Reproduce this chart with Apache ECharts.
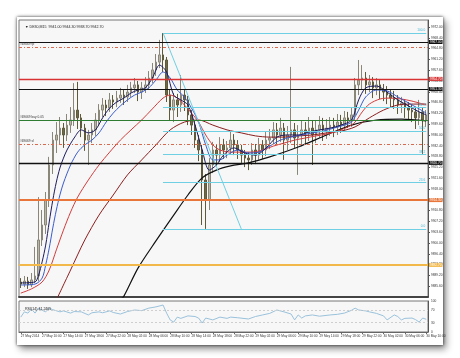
<!DOCTYPE html>
<html><head><meta charset="utf-8">
<script src="https://cdn.jsdelivr.net/npm/echarts@6/dist/echarts.min.js"></script>
<style>
html,body{margin:0;padding:0;background:#fff;width:460px;height:358px;overflow:hidden;}
#frame{position:absolute;left:17px;top:17px;width:426px;height:328px;background:#fff;box-shadow:0 0 3px rgba(0,0,0,.75),3px 4px 7px rgba(0,0,0,.45);}
#chart{position:absolute;left:0;top:0;width:460px;height:358px;}
</style></head><body>
<div id="frame"></div><div id="chart"></div>
<script>
const tickLabels = ["27 May 2014","27 May 10:00","27 May 14:00","27 May 18:00","27 May 22:00","28 May 02:00","28 May 06:00","28 May 10:00","28 May 14:00","28 May 18:00","28 May 22:00","29 May 02:00","29 May 06:00","29 May 10:00","29 May 14:00","29 May 18:00","29 May 22:00","30 May 02:00","30 May 06:00","30 May 10:00"];
// [open, close, low, high]
const candles = [
[9887.0,9886.3,9885.0,9888.3],[9886.3,9887.3,9885.3,9889.0],[9887.3,9886.0,9884.7,9888.7],[9886.0,9887.7,9885.3,9890.0],
[9887.7,9889.0,9886.7,9898.7],[9889.0,9901.0,9887.3,9915.3],[9901.0,9906.0,9899.0,9911.0],[9906.0,9914.3,9903.0,9917.0],
[9914.3,9926.0,9912.0,9928.7],[9926.0,9934.3,9923.0,9937.0],[9934.3,9936.0,9930.0,9940.3],[9936.0,9938.3,9933.0,9942.0],
[9938.3,9936.0,9931.7,9940.0],[9936.0,9939.3,9934.0,9943.0],[9939.3,9941.0,9936.7,9945.3],[9941.0,9944.3,9939.0,9953.3],
[9944.3,9941.7,9938.0,9953.7],[9941.7,9938.3,9935.3,9943.0],[9938.3,9934.3,9930.7,9939.7],[9934.3,9936.0,9926.0,9937.7],
[9936.0,9937.7,9933.3,9940.0],[9937.7,9941.0,9935.7,9943.3],[9941.0,9944.3,9939.3,9946.3],[9944.3,9946.0,9942.0,9948.3],
[9946.0,9945.0,9942.3,9947.7],[9945.0,9947.7,9943.7,9950.0],[9947.7,9947.0,9944.7,9949.3],[9947.0,9948.3,9945.3,9950.7],
[9948.3,9949.3,9946.7,9951.7],[9949.3,9948.7,9946.0,9951.0],[9948.7,9950.3,9947.0,9952.7],[9950.3,9951.7,9948.7,9953.7],
[9951.7,9952.7,9950.0,9955.0],[9952.7,9950.3,9947.3,9954.0],[9950.3,9951.7,9948.0,9953.7],[9951.7,9952.7,9950.0,9955.3],
[9952.7,9955.0,9951.0,9957.3],[9955.0,9957.7,9953.3,9960.0],[9957.7,9960.3,9955.7,9963.0],[9960.3,9962.7,9958.3,9967.7],
[9962.7,9961.0,9957.0,9970.0],[9961.0,9949.3,9947.0,9962.0],[9949.3,9944.3,9941.0,9951.0],[9944.3,9947.7,9940.3,9950.0],
[9947.7,9946.0,9942.0,9949.7],[9946.0,9949.3,9943.7,9956.0],[9949.3,9947.7,9944.0,9951.0],[9947.7,9942.7,9939.3,9949.0],
[9942.7,9939.3,9936.0,9944.3],[9939.3,9934.3,9931.7,9941.0],[9934.3,9931.0,9927.3,9936.0],[9931.0,9921.0,9906.0,9932.7],
[9921.0,9914.3,9904.7,9923.0],[9914.3,9926.0,9911.0,9928.3],[9926.0,9931.0,9923.3,9933.7],[9931.0,9929.3,9925.7,9933.0],
[9929.3,9932.7,9927.0,9935.3],[9932.7,9931.0,9928.0,9934.7],[9931.0,9931.7,9928.3,9934.0],[9931.7,9934.3,9929.7,9937.0],
[9934.3,9932.7,9929.3,9936.3],[9932.7,9931.0,9928.0,9934.3],[9931.0,9929.3,9926.7,9932.7],[9929.3,9928.3,9925.3,9931.0],
[9928.3,9927.7,9924.3,9930.3],[9927.7,9931.0,9926.0,9933.3],[9931.0,9929.3,9926.3,9933.0],[9929.3,9932.7,9927.7,9935.0],
[9932.7,9931.0,9928.0,9934.3],[9931.0,9934.3,9929.0,9937.0],[9934.3,9935.0,9931.3,9938.0],[9935.0,9937.7,9933.0,9940.3],
[9937.7,9936.0,9932.7,9940.0],[9936.0,9938.3,9933.7,9941.7],[9938.3,9934.3,9927.7,9940.0],[9934.3,9936.0,9931.0,9939.0],
[9936.0,9937.7,9933.3,9958.7],[9937.7,9935.0,9931.7,9940.0],[9935.0,9936.0,9922.7,9939.3],[9936.0,9937.7,9932.3,9941.0],
[9937.7,9936.7,9933.0,9940.3],[9936.7,9938.3,9934.0,9942.0],[9938.3,9936.0,9926.0,9941.0],[9936.0,9937.7,9933.3,9940.7],
[9937.7,9939.3,9935.0,9942.3],[9939.3,9937.7,9934.0,9941.7],[9937.7,9938.3,9934.7,9941.3],[9938.3,9939.3,9935.7,9942.0],
[9939.3,9938.7,9935.3,9941.7],[9938.7,9940.3,9936.0,9943.0],[9940.3,9939.3,9936.7,9942.7],[9939.3,9941.7,9937.3,9944.0],
[9941.7,9941.0,9938.3,9943.7],[9941.0,9942.7,9938.7,9945.3],[9942.7,9952.7,9941.0,9955.0],[9952.7,9954.3,9949.3,9961.0],
[9954.3,9955.0,9951.0,9959.3],[9955.0,9952.7,9949.7,9957.0],[9952.7,9953.7,9950.3,9956.0],[9953.7,9951.7,9948.3,9955.3],
[9951.7,9952.7,9949.3,9955.0],[9952.7,9951.0,9948.0,9954.3],[9951.0,9950.3,9947.3,9953.0],[9950.3,9949.3,9946.3,9952.3],
[9949.3,9948.3,9945.0,9951.3],[9948.3,9947.7,9944.7,9950.7],[9947.7,9946.0,9943.0,9949.3],[9946.0,9946.7,9943.3,9948.7],
[9946.7,9945.0,9941.7,9948.0],[9945.0,9944.3,9941.0,9947.0],[9944.3,9943.7,9940.3,9946.3],[9943.7,9941.7,9938.0,9945.0],
[9941.7,9943.7,9939.3,9947.7],[9943.7,9941.0,9929.7,9945.3],[9941.0,9942.7,9938.7,9944.3]
];
const maNavy = [[0,9886.7],[4,9887.0],[5,9889.3],[6,9893.7],[7,9899.3],[8,9907.0],[9,9914.3],[10,9920.3],[11,9925.0],[12,9928.3],[13,9931.0],[15,9935.0],[17,9937.7],[19,9936.7],[21,9937.7],[23,9941.7],[25,9945.0],[27,9947.0],[29,9948.3],[31,9950.0],[33,9951.0],[35,9951.7],[37,9955.0],[39,9959.3],[41,9957.0],[43,9949.3],[45,9947.7],[47,9946.0],[49,9939.3],[51,9931.0],[53,9924.3],[55,9926.0],[57,9929.3],[60,9931.7],[63,9930.0],[66,9929.3],[69,9931.7],[72,9935.3],[75,9936.0],[78,9936.0],[81,9937.0],[84,9937.7],[87,9938.3],[90,9939.3],[93,9941.0],[95,9947.7],[97,9951.7],[100,9952.3],[103,9950.3],[106,9947.7],[109,9945.7],[112,9943.7],[114,9942.7]];
const maBlue = [[0,9886.0],[4,9886.3],[6,9888.3],[7,9892.7],[8,9898.3],[9,9905.0],[10,9911.0],[11,9916.0],[12,9920.0],[14,9926.0],[16,9930.3],[18,9932.7],[20,9934.3],[22,9936.7],[24,9940.3],[26,9943.3],[28,9945.7],[30,9947.7],[32,9949.3],[34,9950.3],[36,9951.7],[38,9954.3],[40,9957.0],[42,9955.0],[44,9951.0],[46,9948.7],[48,9945.0],[50,9940.3],[52,9932.7],[54,9927.7],[56,9927.7],[58,9929.3],[61,9931.0],[64,9930.0],[67,9930.3],[70,9932.3],[73,9934.3],[76,9935.3],[79,9936.0],[82,9936.7],[85,9937.3],[88,9938.3],[91,9939.3],[93,9940.3],[95,9944.3],[97,9948.7],[100,9951.0],[103,9950.7],[106,9948.7],[109,9946.7],[112,9944.7],[114,9943.3]];
const maRed = [[0,9883.3],[3,9884.7],[6,9887.0],[8,9891.0],[10,9897.7],[12,9904.3],[14,9910.3],[16,9915.3],[19,9921.0],[22,9926.0],[25,9930.3],[28,9934.3],[31,9937.7],[34,9941.0],[37,9944.7],[40,9948.3],[42,9949.3],[44,9948.3],[46,9946.0],[48,9943.3],[50,9940.3],[52,9936.0],[54,9932.7],[56,9931.0],[59,9930.3],[62,9930.3],[65,9930.3],[68,9931.0],[71,9932.3],[74,9933.3],[77,9934.3],[80,9935.0],[83,9935.7],[86,9936.3],[89,9937.3],[92,9938.7],[94,9940.3],[96,9943.7],[98,9946.3],[101,9948.0],[104,9948.3],[107,9948.0],[110,9947.3],[114,9946.0]];
const maDarkRed = [[10,9881.0],[14,9891.0],[18,9901.0],[22,9909.3],[26,9916.0],[30,9922.7],[34,9927.7],[38,9932.7],[42,9937.7],[46,9940.3],[50,9941.0],[54,9939.3],[58,9937.7],[62,9936.7],[66,9935.7],[70,9935.3],[74,9935.3],[78,9935.7],[82,9936.0],[86,9936.7],[90,9937.3],[94,9938.7],[98,9941.7],[102,9944.3],[106,9946.0],[110,9946.3],[114,9946.3]];
const maLong = [[28,9881.0],[29,9882.3],[33,9891.7],[38,9900.7],[43,9909.3],[47,9916.0],[51,9921.7],[55,9924.3],[59,9925.7],[64,9926.7],[70,9928.7],[78,9932.0],[86,9936.0],[93,9939.3],[100,9941.0],[107,9941.3],[114,9940.7]];
const rsi = [[0,48],[1,65],[2,61],[3,74],[4,61],[5,77],[6,70],[7,65],[8,77],[9,72],[11,65],[12,68],[14,61],[15,66],[17,65],[19,55],[20,62],[22,65],[23,62],[25,68],[26,63],[28,58],[30,66],[32,71],[34,69],[36,77],[38,81],[40,87],[41,61],[42,39],[43,32],[44,48],[45,44],[47,52],[49,50],[50,45],[51,29],[52,45],[54,39],[56,48],[58,44],[59,48],[61,46],[64,42],[66,50],[68,55],[70,60],[72,71],[74,65],[76,58],[77,39],[78,55],[79,45],[80,52],[82,55],[84,51],[87,55],[89,57],[91,61],[93,70],[94,77],[95,71],[97,68],[98,65],[100,60],[102,52],[103,39],[105,55],[106,50],[107,39],[108,44],[110,45],[111,40],[112,32],[113,45],[114,41]];
const rsiTicks = [0,30,70,100];
const userLevels = [9967.0, 9954.7, 9951.3, 9926.7, 9914.3, 9892.7];
const orderLevels = [9965.3, 9941.0, 9933.0];
const orderNames = ['#69069 tp', '#69069 buy 0.05', '#69069 sl'];
const fibRatios = ['100.0','61.8','50.0','38.2','23.6','0.0'];
const fibLevels = [9970.0, 9945.1, 9937.4, 9929.6, 9920.1, 9904.7];
const fibTrend = [[40, 9970.0], [62, 9904.7]];
const fibStartIdx = 40;
const bottomPrice = 9882.0;
const rsiLevels = [70, 30];

const categories = candles.map((_, i) => String(i));
const lastIdx = candles.length - 1;
const fs = 3.2;
const userColors = ['#111111','#d83232','#111111','#111111','#e8763a','#f2b84a'];
const userWidths = [1, 1.3, 1, 1.3, 2.2, 2];
const orderColors = ['#d86a50','#2f7d32','#d86a50'];
const orderTypes = [[3, 2, 1, 2], 'solid', [3, 2, 1, 2]];

const markData = [];
userLevels.forEach((v, k) => {
  markData.push({
    yAxis: v,
    lineStyle: {color: userColors[k], width: userWidths[k], type: 'solid'},
    label: {show: true, position: 'end', distance: 1, formatter: v.toFixed(2),
      backgroundColor: userColors[k], color: '#fff', fontSize: fs, padding: [1, 1, 0, 1]}
  });
});
orderLevels.forEach((v, k) => {
  markData.push({
    yAxis: v,
    lineStyle: {color: orderColors[k], width: 1, type: orderTypes[k]},
    label: {show: true, position: 'insideStartTop', distance: 1, formatter: orderNames[k], color: '#333', fontSize: fs}
  });
  if (k === 1) {
    markData.push({yAxis: v, lineStyle: {opacity: 0},
      label: {show: true, position: 'end', distance: 1, formatter: v.toFixed(2),
        backgroundColor: '#2f7d32', color: '#fff', fontSize: fs, padding: [1, 1, 0, 1]}});
  }
});
fibLevels.forEach((v, k) => {
  markData.push([
    {coord: [fibStartIdx, v], lineStyle: {color: '#6fcfe3', width: 1, type: 'solid'},
     label: {show: true, position: 'insideEndTop', distance: 1, formatter: fibRatios[k], color: '#3fb3d3', fontSize: fs}},
    {coord: [lastIdx, v]}
  ]);
});
markData.push({yAxis: bottomPrice, lineStyle: {opacity: 0},
  label: {show: true, position: 'end', distance: 1, formatter: bottomPrice.toFixed(2),
    backgroundColor: '#111', color: '#fff', fontSize: fs, padding: [1, 1, 0, 1]}});

function maSeries(data, color, width) {
  return {type: 'line', xAxisIndex: 0, yAxisIndex: 0, data: data, smooth: 0.3, showSymbol: false,
    lineStyle: {color: color, width: width}, silent: true, z: 3};
}

const chart = echarts.init(document.getElementById('chart'), null, {renderer: 'canvas'});
chart.setOption({
  animation: false,
  backgroundColor: 'transparent',
  textStyle: {fontFamily: 'Liberation Sans, Arial, sans-serif'},
  title: [
    {text: '\u25BC DE30,M15  9941.00 9944.30 9938.70 9942.70', left: 20, top: 20,
      textStyle: {fontSize: 3.6, color: '#222', fontWeight: 'normal'}},
    {text: 'RSI(14) 41.2465', left: 20, top: 302,
      textStyle: {fontSize: 3.6, color: '#222', fontWeight: 'normal'}}
  ],
  grid: [
    {left: 19, top: 20, width: 409, height: 277, show: true, backgroundColor: '#f7f7f7', borderColor: '#777', borderWidth: 1},
    {left: 19, top: 301, width: 409, height: 31, show: true, backgroundColor: '#f7f7f7', borderColor: '#777', borderWidth: 1}
  ],
  xAxis: [
    {type: 'category', gridIndex: 0, data: categories, boundaryGap: true,
      axisLine: {show: true, lineStyle: {color: '#444', width: 2}}, axisTick: {show: false},
      axisLabel: {show: false}, splitLine: {show: false}},
    {type: 'category', gridIndex: 1, data: categories, boundaryGap: true,
      axisLine: {show: true, lineStyle: {color: '#666'}},
      axisTick: {show: true, interval: 5, length: 2, alignWithLabel: true, lineStyle: {color: '#666'}},
      axisLabel: {interval: 5, align: 'left', fontSize: fs, color: '#333', margin: 3,
        formatter: (v, i) => tickLabels[Math.round(i / 6)] || ''},
      splitLine: {show: false}}
  ],
  yAxis: [
    {type: 'value', gridIndex: 0, position: 'right', min: 9882, max: 9974.33, interval: 3.6,
      axisLine: {show: true, lineStyle: {color: '#555'}}, axisTick: {show: true, length: 2},
      axisLabel: {fontSize: fs, color: '#333', margin: 3, showMinLabel: false, showMaxLabel: false,
        formatter: v => v.toFixed(2)},
      splitLine: {show: false}},
    {type: 'value', gridIndex: 1, position: 'right', min: 0, max: 100, interval: 10,
      axisLine: {show: true, lineStyle: {color: '#555'}}, axisTick: {show: false},
      axisLabel: {fontSize: fs, color: '#333', margin: 3,
        formatter: v => rsiTicks.includes(v) ? String(v) : ''},
      splitLine: {show: false}}
  ],
  series: [
    {type: 'candlestick', xAxisIndex: 0, yAxisIndex: 0, data: candles, barWidth: 2,
      itemStyle: {color: '#b8b6a8', color0: '#6e6a48', borderColor: '#8a8778', borderColor0: '#5e5a3a', borderWidth: 1},
      markLine: {silent: true, symbol: ['none', 'none'], animation: false, data: markData},
      z: 2},
    maSeries(maLong, '#111111', 1.2),
    maSeries(maDarkRed, '#8b1e1e', 1),
    maSeries(maRed, '#d23c3c', 1),
    maSeries(maBlue, '#3a5ccc', 1),
    maSeries(maNavy, '#1b1b60', 1),
    {type: 'line', xAxisIndex: 0, yAxisIndex: 0, data: fibTrend, showSymbol: false,
      lineStyle: {color: '#6fcfe3', width: 1}, silent: true, z: 4},
    {type: 'line', xAxisIndex: 1, yAxisIndex: 1, data: rsi, showSymbol: false,
      lineStyle: {color: '#9ac2dc', width: 1}, silent: true,
      markLine: {silent: true, symbol: ['none', 'none'],
        data: rsiLevels.map(v => ({yAxis: v, lineStyle: {color: '#cfcfcf', type: [2, 2], width: 1}, label: {show: false}}))}}
  ]
});
</script></body></html>
